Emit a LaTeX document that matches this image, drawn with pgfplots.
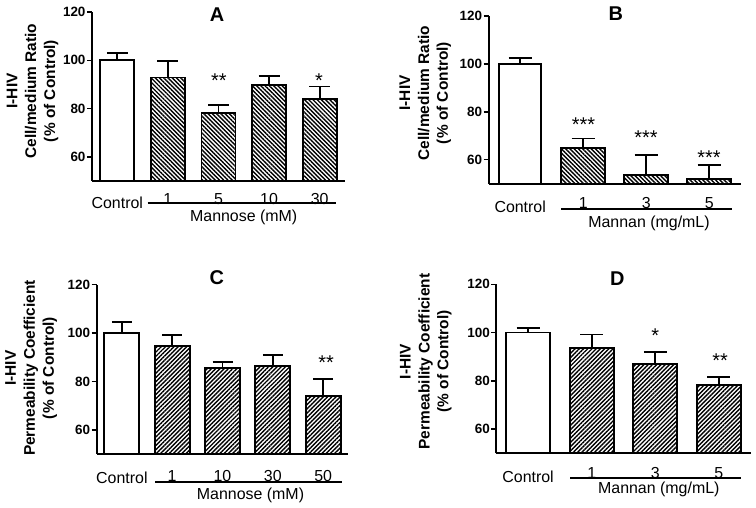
\documentclass[border=0pt]{standalone}
\usepackage{fontspec}
\setmainfont{Liberation Sans}
\usepackage{pgfplots}
\pgfplotsset{compat=1.18}
\usetikzlibrary{patterns.meta}

\pgfplotsset{
  panel/.style={
    scale only axis,
    axis x line=bottom, axis y line=left,
    axis line style={-, line width=1.8bp, black},
    every outer x axis line/.append style={-},
    every outer y axis line/.append style={-},
    ymin=50, ymax=120, ytick={60,80,100,120},
    xmin=-0.5,
    tick align=outside,
    major tick length=5bp,
    ytick style={line width=1.5bp, black},
    xtick style={draw=none},
    yticklabel style={font=\bfseries\fontsize{13.5}{13.5}\selectfont, xshift=2bp},
    xticklabel style={font=\fontsize{16}{16}\selectfont, anchor=base},
    /pgf/number format/assume math mode=true,
    axis on top,
  },
  ebar/.style={error bars/.cd, y dir=plus, y explicit,
    error bar style={line width=1.8bp, black},
    error mark options={rotate=90, line width=1.8bp, black, mark size=#1}},
  ctrl/.style={ybar, draw=black, line width=1.8bp, fill=white, mark=none},
  trtA/.style={ybar, draw=black, line width=1.8bp, fill=white, mark=none,
    postaction={pattern={Lines[angle=-45,distance=3bp,line width=1.4bp]}}},
  trtC/.style={ybar, draw=black, line width=1.8bp, fill=white, mark=none,
    postaction={pattern={Lines[angle=45,distance=3bp,line width=1.4bp]}}},
}

\begin{document}
\begin{tikzpicture}
\path[use as bounding box] (0,0) rectangle (756bp,508bp);

% ---------------- A ----------------
\begin{axis}[panel, anchor=south west, at={(92bp,327bp)},
  width=253bp, height=169bp, xmax=4.5, xtick={0,1,2,3,4},
  xticklabels={\raisebox{-4bp}{Control},1,5,10,30},
  xticklabel style={yshift=-18.5bp}]
\addplot[ctrl, bar width=34bp, ebar=10.5bp] coordinates {(0,100) +- (0,2.9)};
\addplot[trtA, bar width=34bp, ebar=10.5bp] coordinates {
  (1,92.9) +- (0,6.8) (2,78.0) +- (0,3.5) (3,89.7) +- (0,3.8) (4,84.0) +- (0,5.1)};
\end{axis}

% ---------------- B ----------------
\begin{axis}[panel, anchor=south west, at={(488.7bp,324.3bp)},
  width=252bp, height=167.7bp, xmax=3.5, xtick={0,1,2,3},
  xticklabels={\raisebox{-4bp}{Control},1,3,5},
  xticklabel style={yshift=-20.2bp}]
\addplot[ctrl, bar width=42bp, ebar=11.5bp] coordinates {(0,100) +- (0,2.6)};
\addplot[trtA, bar width=44bp, ebar=11.5bp] coordinates {
  (1,65.0) +- (0,3.9) (2,53.6) +- (0,8.3) (3,51.8) +- (0,5.9)};
\end{axis}

% ---------------- C ----------------
\begin{axis}[panel, anchor=south west, at={(96.7bp,54bp)},
  width=251.6bp, height=169.3bp, xmax=4.5, xtick={0,1,2,3,4},
  xticklabels={\raisebox{-2.5bp}{Control},1,10,30,50},
  xticklabel style={yshift=-22.2bp}]
\addplot[ctrl, bar width=35bp, ebar=10bp] coordinates {(0,100) +- (0,4.7)};
\addplot[trtC, bar width=35bp, ebar=10bp] coordinates {
  (1,94.7) +- (0,4.6) (2,85.5) +- (0,2.5) (3,86.4) +- (0,4.4) (4,74.0) +- (0,7.0)};
\end{axis}

% ---------------- D ----------------
\begin{axis}[panel, anchor=south west, at={(496.3bp,54.7bp)},
  width=254.4bp, height=169bp, xmax=3.5, xtick={0,1,2,3},
  xticklabels={\raisebox{-3.3bp}{Control},1,3,5},
  xticklabel style={yshift=-20.6bp}]
\addplot[ctrl, bar width=44bp, ebar=11.5bp] coordinates {(0,100) +- (0,1.9)};
\addplot[trtC, bar width=44bp, ebar=11.5bp] coordinates {
  (1,93.5) +- (0,5.7) (2,86.9) +- (0,5.0) (3,78.3) +- (0,3.2)};
\end{axis}

% ---------------- titles ----------------
\begin{scope}[every node/.style={font=\bfseries\fontsize{20}{20}\selectfont, inner sep=0pt}]
\node at (217bp,493bp) {A};
\node at (615.7bp,494bp) {B};
\node at (216.7bp,230bp) {C};
\node at (617.3bp,229bp) {D};
\end{scope}

% ---------------- y labels ----------------
\begin{scope}[every node/.style={rotate=90, align=center, inner sep=0pt,
    font=\bfseries\fontsize{15.5}{19}\selectfont}]
\node at (32.5bp,417bp) {I-HIV\\Cell/medium Ratio\\(\% of Control)};
\node at (425.3bp,415bp) {I-HIV\\Cell/medium Ratio\\(\% of Control)};
\node at (31.2bp,140bp) {I-HIV\\Permeability Coefficient\\(\% of Control)};
\node at (425.8bp,146.5bp) {I-HIV\\Permeability Coefficient\\(\% of Control)};
\end{scope}

% ---------------- group lines and labels ----------------
\draw[line width=2bp] (147.7bp,304.7bp) -- (335.7bp,304.7bp);
\draw[line width=2bp] (561bp,299bp) -- (731.7bp,299bp);
\draw[line width=2bp] (155bp,25.7bp) -- (341.7bp,25.7bp);
\draw[line width=2bp] (570.3bp,30bp) -- (741.3bp,30bp);
\begin{scope}[every node/.style={anchor=base, inner sep=0pt, font=\fontsize{16}{16}\selectfont}]
\node at (243.7bp,286.3bp) {Mannose (mM)};
\node at (649bp,280bp) {Mannan (mg/mL)};
\node at (250.5bp,9bp) {Mannose (mM)};
\node at (658.8bp,14.5bp) {Mannan (mg/mL)};
\end{scope}

% ---------------- significance ----------------
\begin{scope}[every node/.style={anchor=base, inner sep=0pt, font=\fontsize{20}{20}\selectfont}]
\node at (219bp,420.4bp) {**};
\node at (319bp,420.4bp) {*};
\node at (583.5bp,376.4bp) {***};
\node at (646bp,363.1bp) {***};
\node at (709bp,343.1bp) {***};
\node at (326bp,138.4bp) {**};
\node at (655.3bp,165.7bp) {*};
\node at (720bp,140.7bp) {**};
\end{scope}
\end{tikzpicture}
\end{document}
